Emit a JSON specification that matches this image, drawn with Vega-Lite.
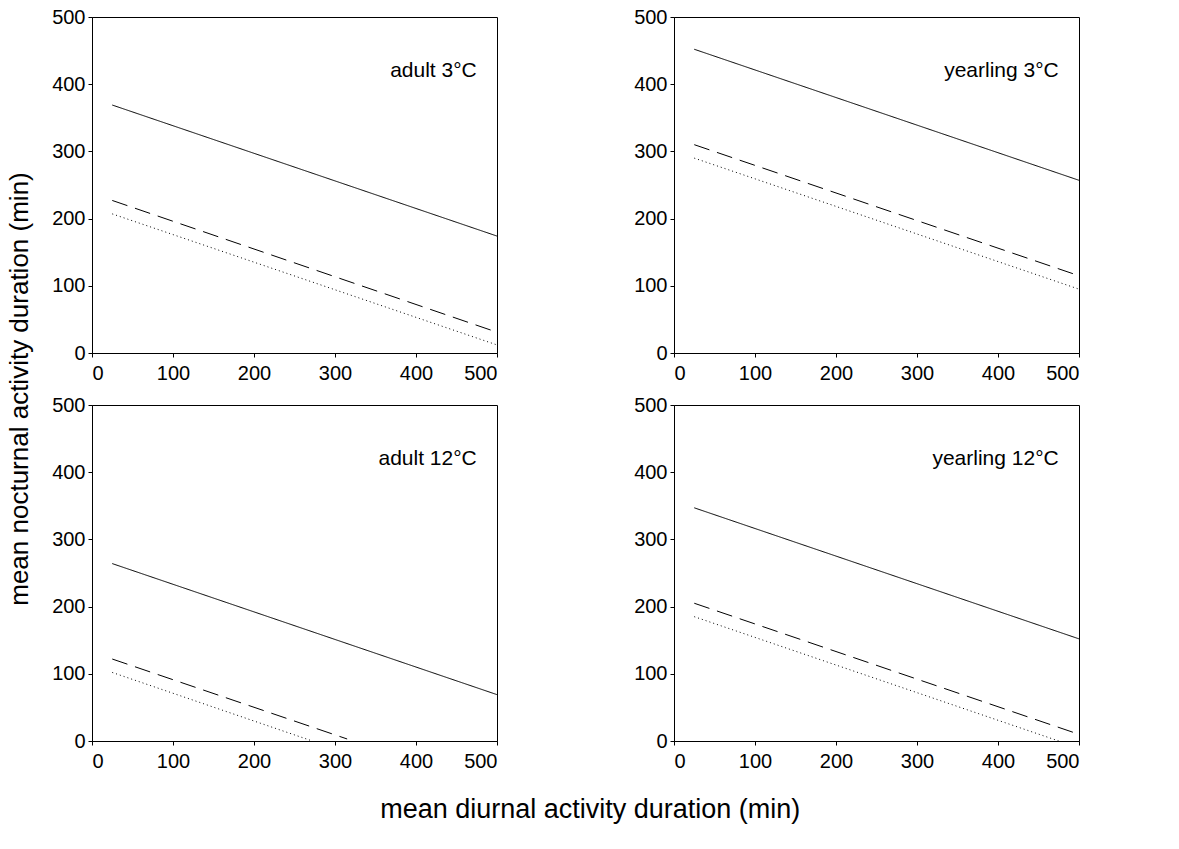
{
  "$schema": "https://vega.github.io/schema/vega-lite/v6.json",
  "background": "white",
  "padding": {"left": 6, "top": 6, "right": 5, "bottom": 5},
  "title": {"text": "mean diurnal activity duration (min)", "orient": "bottom", "anchor": "middle", "fontSize": 27, "font": "Liberation Sans", "fontWeight": "normal", "color": "black", "offset": 25, "dx": 46},
  "data": {
    "values": [
      {"age": "adult", "temp": "3°C", "kind": "line", "series": "solid", "x": 25, "y": 369},
      {"age": "adult", "temp": "3°C", "kind": "line", "series": "solid", "x": 500, "y": 174},
      {"age": "adult", "temp": "3°C", "kind": "line", "series": "dashed", "x": 25, "y": 227},
      {"age": "adult", "temp": "3°C", "kind": "line", "series": "dashed", "x": 495, "y": 33},
      {"age": "adult", "temp": "3°C", "kind": "line", "series": "dotted", "x": 25, "y": 207},
      {"age": "adult", "temp": "3°C", "kind": "line", "series": "dotted", "x": 500, "y": 12},
      {"age": "yearling", "temp": "3°C", "kind": "line", "series": "solid", "x": 25, "y": 452},
      {"age": "yearling", "temp": "3°C", "kind": "line", "series": "solid", "x": 500, "y": 257},
      {"age": "yearling", "temp": "3°C", "kind": "line", "series": "dashed", "x": 25, "y": 310},
      {"age": "yearling", "temp": "3°C", "kind": "line", "series": "dashed", "x": 495, "y": 117},
      {"age": "yearling", "temp": "3°C", "kind": "line", "series": "dotted", "x": 25, "y": 290},
      {"age": "yearling", "temp": "3°C", "kind": "line", "series": "dotted", "x": 500, "y": 95},
      {"age": "adult", "temp": "12°C", "kind": "line", "series": "solid", "x": 25, "y": 264},
      {"age": "adult", "temp": "12°C", "kind": "line", "series": "solid", "x": 500, "y": 69},
      {"age": "adult", "temp": "12°C", "kind": "line", "series": "dashed", "x": 25, "y": 122},
      {"age": "adult", "temp": "12°C", "kind": "line", "series": "dashed", "x": 315, "y": 3},
      {"age": "adult", "temp": "12°C", "kind": "line", "series": "dotted", "x": 25, "y": 102},
      {"age": "adult", "temp": "12°C", "kind": "line", "series": "dotted", "x": 272, "y": 0},
      {"age": "yearling", "temp": "12°C", "kind": "line", "series": "solid", "x": 25, "y": 347},
      {"age": "yearling", "temp": "12°C", "kind": "line", "series": "solid", "x": 500, "y": 152},
      {"age": "yearling", "temp": "12°C", "kind": "line", "series": "dashed", "x": 25, "y": 205},
      {"age": "yearling", "temp": "12°C", "kind": "line", "series": "dashed", "x": 495, "y": 12},
      {"age": "yearling", "temp": "12°C", "kind": "line", "series": "dotted", "x": 25, "y": 185},
      {"age": "yearling", "temp": "12°C", "kind": "line", "series": "dotted", "x": 475, "y": 0},
      {"age": "adult", "temp": "3°C", "kind": "label", "label": "adult 3°C", "x": 475, "y": 420},
      {"age": "yearling", "temp": "3°C", "kind": "label", "label": "yearling 3°C", "x": 475, "y": 420},
      {"age": "adult", "temp": "12°C", "kind": "label", "label": "adult 12°C", "x": 475, "y": 420},
      {"age": "yearling", "temp": "12°C", "kind": "label", "label": "yearling 12°C", "x": 475, "y": 420}
    ]
  },
  "facet": {
    "row": {
      "field": "temp",
      "type": "nominal",
      "sort": ["3°C", "12°C"],
      "title": "mean nocturnal activity duration (min)",
      "header": {"labels": false, "titleFontSize": 26, "titleFont": "Liberation Sans", "titleFontWeight": "normal", "titleColor": "black", "titlePadding": 8}
    },
    "column": {
      "field": "age",
      "type": "nominal",
      "sort": ["adult", "yearling"],
      "title": null,
      "header": {"labels": false}
    }
  },
  "spacing": {"column": 133, "row": 10},
  "resolve": {"axis": {"x": "independent", "y": "independent"}},
  "spec": {
    "width": 405,
    "height": 336,
    "layer": [
      {
        "transform": [{"filter": "datum.kind === 'line'"}],
        "mark": {"type": "line", "color": "black", "strokeWidth": 1},
        "encoding": {
          "x": {"field": "x", "type": "quantitative", "scale": {"domain": [0, 500], "nice": false}, "axis": {"values": [0, 100, 200, 300, 400, 500], "title": null}},
          "y": {"field": "y", "type": "quantitative", "scale": {"domain": [0, 500], "nice": false}, "axis": {"values": [0, 100, 200, 300, 400, 500], "title": null}},
          "detail": {"field": "series"},
          "strokeDash": {"field": "series", "type": "nominal", "scale": {"domain": ["solid", "dashed", "dotted"], "range": [[1, 0], [16, 8], [1, 3]]}, "legend": null}
        }
      },
      {
        "transform": [{"filter": "datum.kind === 'label'"}],
        "mark": {"type": "text", "align": "right", "baseline": "middle", "fontSize": 21, "font": "Liberation Sans", "color": "black"},
        "encoding": {
          "x": {"field": "x", "type": "quantitative"},
          "y": {"field": "y", "type": "quantitative"},
          "text": {"field": "label"}
        }
      }
    ]
  },
  "config": {
    "view": {"stroke": "black", "strokeWidth": 1},
    "axis": {
      "domainColor": "black",
      "tickColor": "black",
      "tickSize": 4,
      "labelColor": "black",
      "labelFont": "Liberation Sans",
      "labelFontSize": 20,
      "grid": false,
      "labelPadding": 3
    },
    "axisX": {"labelPadding": 6}
  }
}
